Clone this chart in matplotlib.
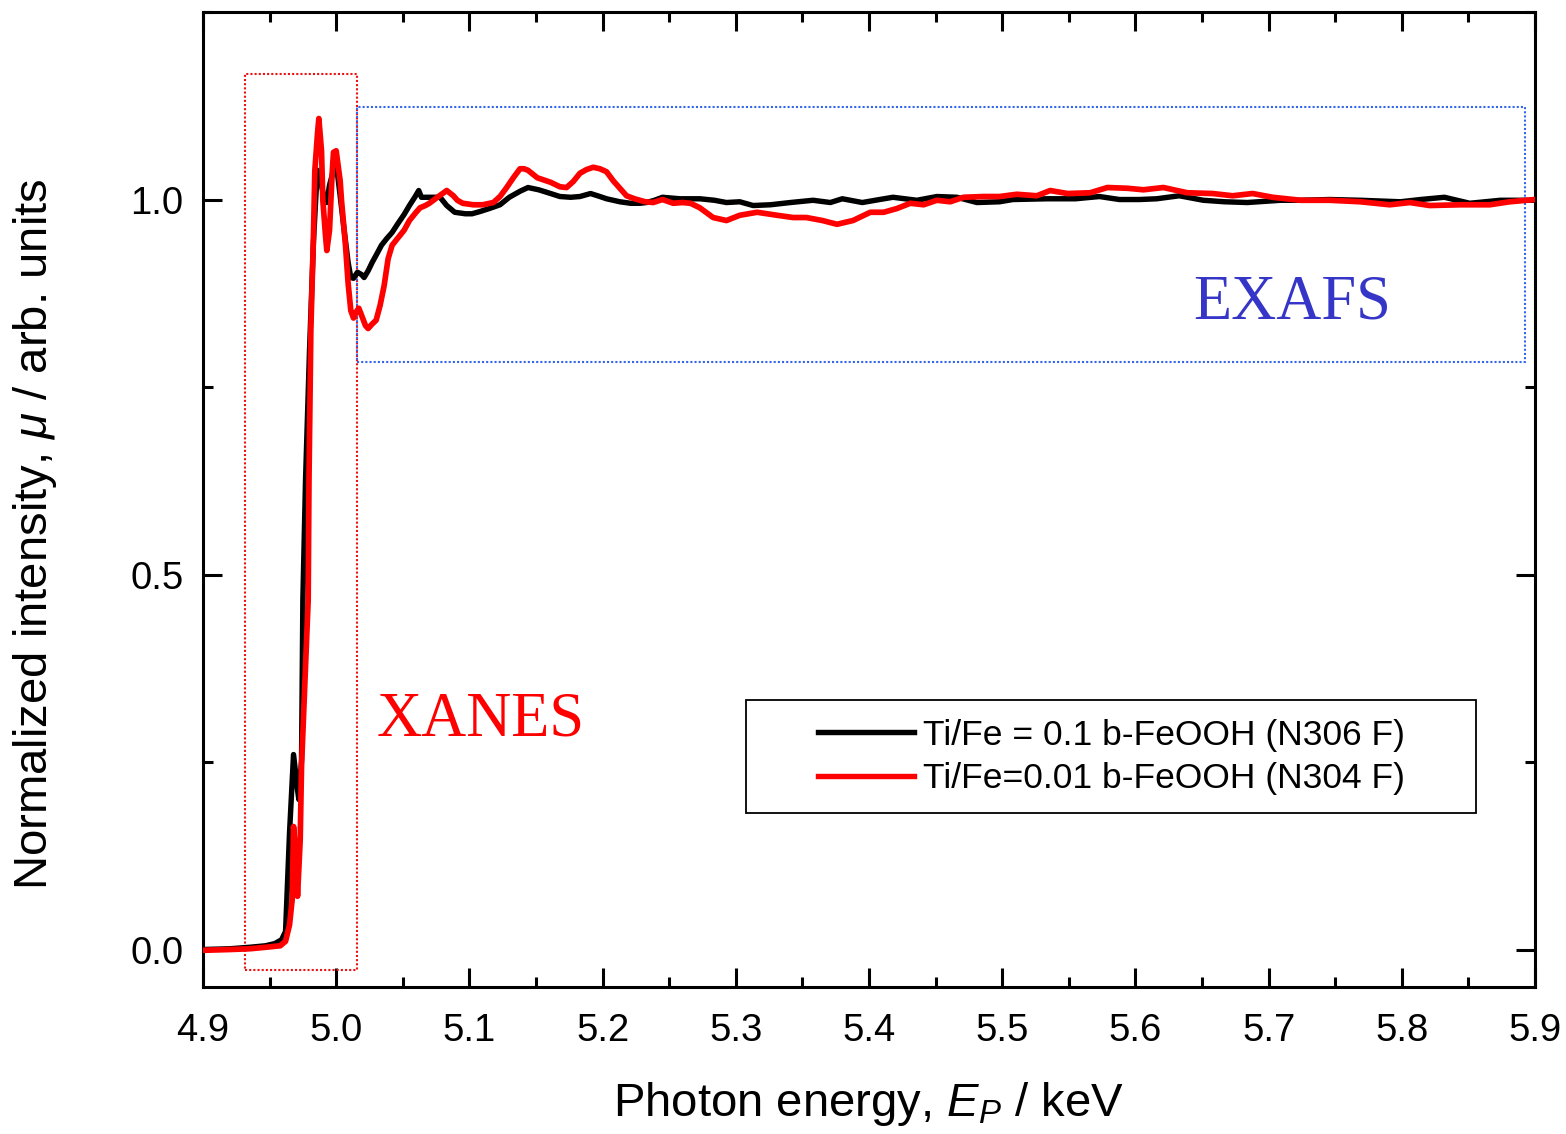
import matplotlib
matplotlib.use('Agg')
import matplotlib.pyplot as plt
from matplotlib.patches import Rectangle
from matplotlib.ticker import MultipleLocator
import numpy as np

plt.rcParams['font.family'] = ['Liberation Sans', 'DejaVu Sans']
plt.rcParams['mathtext.fontset'] = 'custom'
plt.rcParams['mathtext.rm'] = 'Liberation Sans'
plt.rcParams['mathtext.it'] = 'Liberation Sans:italic'

# Ti/Fe = 0.1 (N306 F), black
e_black = [4.900, 4.920, 4.935, 4.947, 4.954, 4.959, 4.962, 4.965, 4.968, 4.971,
           4.972, 4.974, 4.975, 4.977, 4.980, 4.983, 4.985, 4.986, 4.989, 4.991,
           4.993, 4.995, 4.998, 5.000, 5.003, 5.006, 5.009, 5.011, 5.013, 5.016,
           5.019, 5.021, 5.024, 5.027, 5.031, 5.034, 5.038, 5.042, 5.046, 5.051,
           5.055, 5.059, 5.062, 5.064, 5.078, 5.083, 5.089, 5.097, 5.102, 5.108,
           5.115, 5.123, 5.130, 5.138, 5.144, 5.152, 5.161, 5.168, 5.176, 5.183,
           5.191, 5.198, 5.203, 5.213, 5.221, 5.228, 5.233, 5.239, 5.245, 5.258,
           5.273, 5.284, 5.293, 5.303, 5.313, 5.326, 5.341, 5.358, 5.371, 5.380,
           5.395, 5.408, 5.418, 5.436, 5.451, 5.466, 5.481, 5.498, 5.508, 5.534,
           5.555, 5.573, 5.588, 5.603, 5.616, 5.633, 5.651, 5.667, 5.684, 5.709,
           5.724, 5.746, 5.769, 5.799, 5.814, 5.832, 5.851, 5.874, 5.900]
mu_black = [0.000, 0.001, 0.003, 0.005, 0.008, 0.013, 0.024, 0.156, 0.260, 0.213,
            0.200, 0.253, 0.466, 0.626, 0.799, 0.945, 1.012, 1.039, 1.019, 1.001,
            0.996, 1.019, 1.039, 1.049, 1.005, 0.959, 0.916, 0.896, 0.895, 0.903,
            0.900, 0.896, 0.905, 0.916, 0.929, 0.939, 0.948, 0.956, 0.967, 0.980,
            0.992, 1.003, 1.012, 1.003, 1.003, 0.992, 0.983, 0.981, 0.981, 0.984,
            0.988, 0.993, 1.003, 1.011, 1.016, 1.013, 1.008, 1.004, 1.003, 1.004,
            1.008, 1.004, 1.001, 0.997, 0.995, 0.995, 0.996, 0.999, 1.003, 1.001,
            1.001, 0.999, 0.996, 0.997, 0.992, 0.993, 0.996, 0.999, 0.996, 1.001,
            0.996, 1.000, 1.003, 0.999, 1.004, 1.003, 0.996, 0.997, 1.000, 1.001,
            1.001, 1.004, 1.000, 1.000, 1.001, 1.005, 0.999, 0.997, 0.996, 0.999,
            0.999, 1.000, 0.999, 0.997, 1.000, 1.003, 0.995, 0.999, 0.999]

# Ti/Fe = 0.01 (N304 F), red
e_red = [4.900, 4.920, 4.935, 4.947, 4.958, 4.962, 4.965, 4.967, 4.968, 4.970,
         4.971, 4.973, 4.974, 4.977, 4.979, 4.9796, 4.981, 4.983, 4.984, 4.986,
         4.987, 4.989, 4.990, 4.992, 4.993, 4.995, 4.997, 4.998, 5.000, 5.001,
         5.003, 5.004, 5.007, 5.009, 5.011, 5.013, 5.015, 5.017, 5.019, 5.022,
         5.024, 5.027, 5.030, 5.033, 5.036, 5.039, 5.042, 5.046, 5.051, 5.055,
         5.060, 5.063, 5.067, 5.070, 5.076, 5.083, 5.088, 5.091, 5.095, 5.103,
         5.110, 5.118, 5.123, 5.128, 5.133, 5.138, 5.141, 5.144, 5.151, 5.161,
         5.168, 5.173, 5.178, 5.183, 5.188, 5.193, 5.198, 5.203, 5.208, 5.213,
         5.218, 5.224, 5.232, 5.238, 5.245, 5.253, 5.260, 5.266, 5.273, 5.283,
         5.293, 5.303, 5.316, 5.331, 5.343, 5.353, 5.365, 5.376, 5.388, 5.401,
         5.411, 5.421, 5.431, 5.441, 5.451, 5.461, 5.471, 5.486, 5.498, 5.511,
         5.526, 5.536, 5.549, 5.566, 5.579, 5.594, 5.606, 5.621, 5.639, 5.658,
         5.673, 5.688, 5.703, 5.724, 5.746, 5.769, 5.791, 5.806, 5.821, 5.844,
         5.866, 5.881, 5.900]
mu_red = [-0.001, 0.000, 0.001, 0.003, 0.005, 0.011, 0.033, 0.067, 0.164, 0.120,
          0.071, 0.146, 0.244, 0.377, 0.466, 0.626, 0.826, 0.955, 1.039, 1.088,
          1.108, 1.065, 0.999, 0.952, 0.932, 0.959, 1.035, 1.063, 1.065, 1.052,
          1.025, 0.999, 0.939, 0.888, 0.852, 0.842, 0.850, 0.855, 0.846, 0.832,
          0.828, 0.834, 0.839, 0.859, 0.885, 0.921, 0.939, 0.948, 0.959, 0.972,
          0.983, 0.989, 0.992, 0.995, 1.003, 1.012, 1.005, 0.999, 0.995, 0.993,
          0.993, 0.996, 1.004, 1.016, 1.029, 1.041, 1.041, 1.039, 1.029, 1.023,
          1.017, 1.016, 1.024, 1.035, 1.040, 1.043, 1.041, 1.037, 1.025, 1.015,
          1.005, 1.001, 0.997, 0.996, 1.000, 0.995, 0.996, 0.995, 0.989, 0.976,
          0.972, 0.979, 0.983, 0.979, 0.976, 0.976, 0.972, 0.967, 0.972, 0.983,
          0.983, 0.988, 0.995, 0.993, 0.999, 0.997, 1.003, 1.004, 1.004, 1.007,
          1.005, 1.012, 1.008, 1.009, 1.016, 1.015, 1.013, 1.016, 1.009, 1.008,
          1.005, 1.008, 1.003, 0.999, 0.999, 0.997, 0.993, 0.996, 0.992, 0.993,
          0.993, 0.997, 1.000]

labels = ['Ti/Fe = 0.1 b-FeOOH (N306 F)', 'Ti/Fe=0.01 b-FeOOH (N304 F)']

# marked regions (energy, intensity)
xanes_box = (4.9315, 5.0156, -0.027, 1.168)
exafs_box = (5.0156, 5.8925, 0.784, 1.124)

fig = plt.figure(figsize=(15.66, 11.34), dpi=100)
ax = fig.add_axes([0.1296, 0.1296, 0.8506, 0.8598])

ax.plot(e_black, mu_black, color='black', lw=3.9, label=labels[0], zorder=3,
        solid_joinstyle='round')
ax.plot(e_red, mu_red, color='#ff0000', lw=4.1, label=labels[1], zorder=4,
        solid_joinstyle='round')

x0, x1, y0, y1 = xanes_box
ax.add_patch(Rectangle((x0, y0), x1 - x0, y1 - y0, fill=False, ec='#ee1111',
                       ls=(0, (1, 1.0)), lw=1.5, zorder=2))
x0, x1, y0, y1 = exafs_box
ax.add_patch(Rectangle((x0, y0), x1 - x0, y1 - y0, fill=False, ec='#3366ee',
                       ls=(0, (1, 1.0)), lw=1.5, zorder=2))

ax.text(5.1087, 0.306, 'XANES', color='#ff0000', fontsize=45,
        family='Liberation Serif', ha='center', va='center')
ax.text(5.7176, 0.862, 'EXAFS', color='#3535c8', fontsize=45,
        family='Liberation Serif', ha='center', va='center')

ax.set_xlim(4.9, 5.9)
ax.set_ylim(-0.05, 1.25)
ax.xaxis.set_major_locator(MultipleLocator(0.1))
ax.xaxis.set_minor_locator(MultipleLocator(0.05))
ax.yaxis.set_major_locator(MultipleLocator(0.5))
ax.yaxis.set_minor_locator(MultipleLocator(0.25))
ax.xaxis.set_major_formatter(plt.FuncFormatter(lambda v, p: '%.1f' % v))
ax.yaxis.set_major_formatter(plt.FuncFormatter(lambda v, p: '%.1f' % v))
ax.tick_params(which='both', direction='in', top=True, right=True, width=2.2,
               labelsize=27.5)
ax.tick_params(which='major', length=14, pad=14)
ax.tick_params(axis='x', which='major', pad=19)
ax.tick_params(which='minor', length=7)
for s in ax.spines.values():
    s.set_linewidth(2.2)

ax.set_xlabel('Photon energy, $E_P$ / keV', fontsize=34, labelpad=22)
ax.set_ylabel('Normalized intensity, $\\mu$ / arb. units', fontsize=34)
ax.yaxis.set_label_coords(-0.108, 0.464)

leg = ax.legend(loc='center', bbox_to_anchor=(0.682, 0.236), frameon=False,
                fontsize=25.5, handlelength=2.7, handletextpad=0.25,
                labelspacing=0.3)
for h in leg.legend_handles:
    h.set_linewidth(3.9)
ax.add_patch(Rectangle((0.408, 0.179), 0.548, 0.115, transform=ax.transAxes,
                       fill=False, ec='black', lw=1.3, zorder=5))

fig.savefig('out.png', dpi=100)
